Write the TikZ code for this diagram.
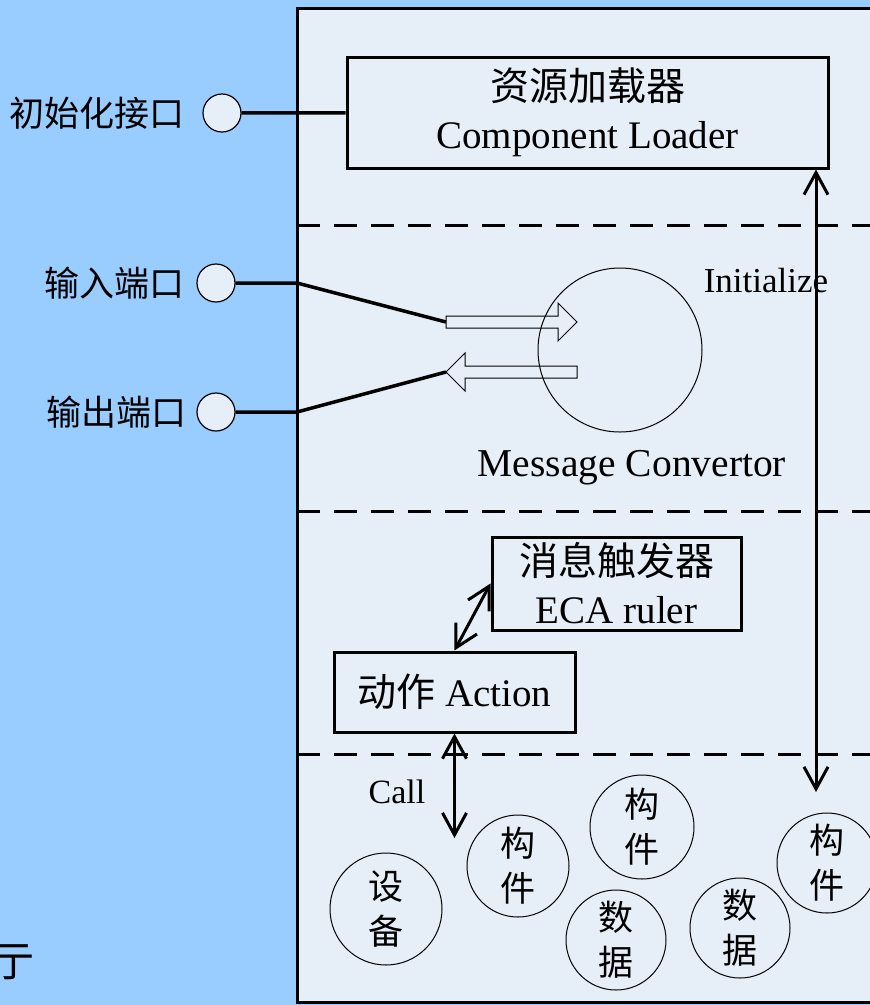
\documentclass[tikz,border=0pt]{standalone}
\usepackage{fontspec}
\setmainfont{Liberation Serif}
\newfontfamily\cjk{Noto Sans CJK SC}
\usetikzlibrary{calc,positioning,arrows.meta}
\definecolor{skyblue}{HTML}{99CCFF}
\definecolor{panel}{HTML}{E6EEF8}

\begin{document}
\begin{tikzpicture}[x=1pt,y=-1pt,
	box/.style={draw, line width=3pt, inner sep=0pt, align=center, font=\fontsize{39}{48}\selectfont},
	port/.style={draw, circle, fill=panel, line width=1.2pt, minimum size=38pt, inner sep=0pt},
	portlbl/.style={inner sep=0pt, font=\fontsize{35}{42}\selectfont\cjk},
	part/.style={draw, circle, line width=1pt, minimum size=102pt, inner sep=0pt, align=center, font=\fontsize{35}{45}\selectfont\cjk},
	wire/.style={line width=3.5pt},
	link/.style={line width=3pt, {Straight Barb[length=22pt,width=24pt]}-{Straight Barb[length=22pt,width=24pt]}},
	dashln/.style={line width=3pt, dash pattern=on 23pt off 14pt}]
					
					% background and panel
					\fill[skyblue] (0,0) rectangle (870,1005);
					\useasboundingbox (0,0) rectangle (870,1005);
					\draw[line width=3pt, fill=panel] (297,8) rectangle (890,1002);
					
					% section dividers
					\foreach \y in {225,511,754} {
						\draw[dashln] (297,\y) -- (870,\y);
					}
					
					% loader and ports
					\node[box, minimum width=481pt, minimum height=111pt] (loader) at (587.5,112.5) {{\cjk 资源加载器}\\Component Loader};
					\node[port] (initport) at (222,113) {};
					\node[portlbl, left=18pt of initport] (initlbl) {初始化接口};
					\node[port] (inport) at (216,283) {};
					\node[portlbl, left=12pt of inport] (inlbl) {输入端口};
					\node[port] (outport) at (216,412) {};
					\node[portlbl, left=10pt of outport] (outlbl) {输出端口};
					
					% message convertor
					\node[draw, circle, line width=1pt, minimum size=164pt, inner sep=0pt] (conv) at (620,350) {};
					\node[font=\fontsize{39.5}{46}\selectfont] (convlbl) at (632,468) {Message Convertor};
					\node[font=\fontsize{35}{42}\selectfont] (initword) at (766,281) {Initialize};
					\draw[line width=1pt] (446,316) -- (558,316) -- (558,303) -- (577,322) -- (558,341) -- (558,328) -- (446,328) -- cycle;
					\coordinate (intail) at (446,322);
					\draw[line width=1pt] (446,372) -- (465,353) -- (465,366) -- (577,366) -- (577,378) -- (465,378) -- (465,391) -- cycle;
					\coordinate (outtip) at (446,372);
					
					\coordinate (inbend) at (297,283);
					\coordinate (outbend) at (297,412);
					\draw[wire] (initport) -- (loader);
					\draw[wire] (inport) -- (inbend) -- (intail);
					\draw[wire] (outport) -- (outbend) -- (outtip);
					
					% rules and action
					\node[box, minimum width=249pt, minimum height=93pt] (eca) at (616.5,583.5) {{\cjk 消息触发器}\\ECA ruler};
					\node[box, minimum width=241pt, minimum height=80pt] (action) at (454.5,692) {{\cjk 动作} Action};
					
					\coordinate (initend) at (816,792);
					\draw[link] (loader.south -| initend) -- (initend);
					\draw[link] (eca.west) -- (action.north);
					\coordinate (callend) at (454.5,838);
					\draw[link] (action.south) -- (callend);
					\node[font=\fontsize{34}{40}\selectfont] (calllbl) at (397,792) {Call};
					
					% resources
					\node[part, minimum size=112pt] (dev) at (386,909) {设\\备};
					\node[part] (comp1) at (518,866) {构\\件};
					\node[part, minimum size=104pt] (comp2) at (642,827) {构\\件};
					\node[part, minimum size=100pt] (data1) at (616,940) {数\\据};
					\node[part, minimum size=100pt] (data2) at (740,928) {数\\据};
					\node[part, minimum size=100pt] (comp3) at (827,863) {构\\件};
					
					\node[font=\fontsize{42}{48}\selectfont\cjk] (cut) at (13,962) {亍};
					
\end{tikzpicture}
\end{document}
